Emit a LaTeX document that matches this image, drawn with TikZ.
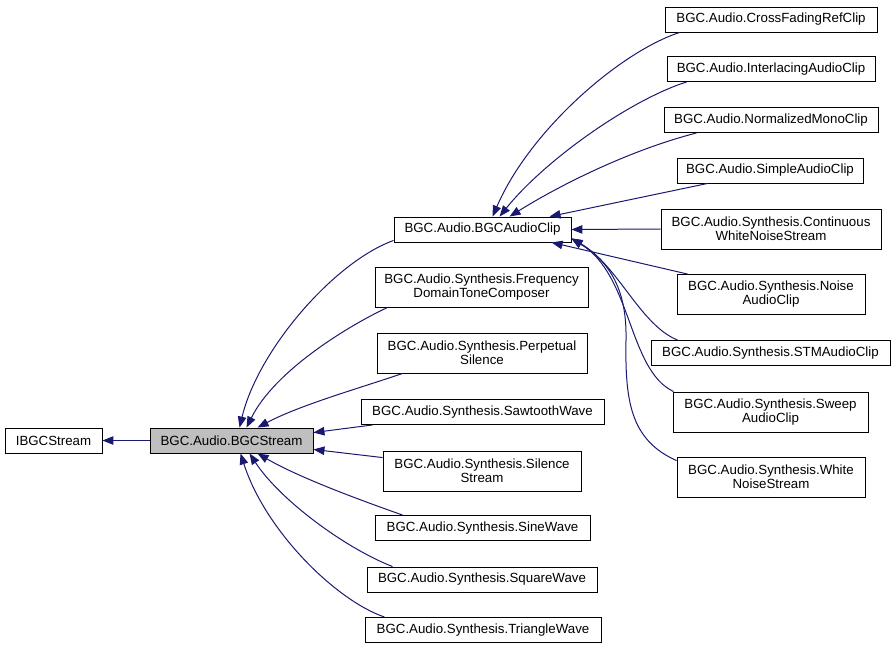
\documentclass[tikz,border=0pt]{standalone}
\usepackage{fontspec}
\setmainfont{Liberation Sans}
\usetikzlibrary{arrows.meta}
\definecolor{edgeblue}{RGB}{25,25,112}
\definecolor{focusgray}{RGB}{191,191,191}
\begin{document}
\begin{tikzpicture}[x=1pt,y=-1pt,
  cls/.style={draw=black, line width=0.9pt, fill=white, inner sep=0pt, align=center,
    font=\fontsize{13.3}{14}\selectfont},
  one/.style={cls, minimum height=25pt},
  two/.style={cls, minimum height=40pt},
  inh/.style={draw=edgeblue, line width=1pt, -{Triangle[length=11pt,width=8.5pt]}, color=edgeblue}
]
\useasboundingbox (0,0) rectangle (896,649);

% left
\node[one, minimum width=97pt] (ibgc) at (53.5,440.5) {IBGCStream};
\node[one, minimum width=163pt, fill=focusgray] (stream) at (231.5,440.5) {BGC.Audio.BGCStream};

% middle column
\node[one, minimum width=177pt] (clip) at (482.5,229.5) {BGC.Audio.BGCAudioClip};
\node[two, minimum width=213pt] (freq) at (481.5,287.5) {BGC.Audio.Synthesis.Frequency\\DomainToneComposer};
\node[two, minimum width=210pt] (perp) at (482,353) {BGC.Audio.Synthesis.Perpetual\\Silence};
\node[one, minimum width=243pt] (saw) at (482.5,412) {BGC.Audio.Synthesis.SawtoothWave};
\node[two, minimum width=198pt] (sil) at (482,471) {BGC.Audio.Synthesis.Silence\\Stream};
\node[one, minimum width=215pt] (sine) at (482.5,528) {BGC.Audio.Synthesis.SineWave};
\node[one, minimum width=230pt] (square) at (482,579.5) {BGC.Audio.Synthesis.SquareWave};
\node[one, minimum width=236pt] (tri) at (483,630) {BGC.Audio.Synthesis.TriangleWave};

% right column
\node[one, minimum width=212pt] (cross) at (771,19.5) {BGC.Audio.CrossFadingRefClip};
\node[one, minimum width=208pt] (inter) at (771,69) {BGC.Audio.InterlacingAudioClip};
\node[one, minimum width=214pt] (norm) at (771,120) {BGC.Audio.NormalizedMonoClip};
\node[one, minimum width=186pt] (simple) at (770,170.5) {BGC.Audio.SimpleAudioClip};
\node[two, minimum width=220pt] (cont) at (771,229) {BGC.Audio.Synthesis.Continuous\\WhiteNoiseStream};
\node[two, minimum width=188pt] (noise) at (771,294.5) {BGC.Audio.Synthesis.Noise\\AudioClip};
\node[one, minimum width=239pt] (stm) at (770.5,353) {BGC.Audio.Synthesis.STMAudioClip};
\node[two, minimum width=195pt] (sweep) at (770.5,412) {BGC.Audio.Synthesis.Sweep\\AudioClip};
\node[two, minimum width=188pt] (white) at (771,477) {BGC.Audio.Synthesis.White\\NoiseStream};

% edges to IBGCStream
\draw[inh] (stream.west) -- (ibgc.east);

% edges to BGCStream
\draw[inh] ([yshift=2pt]clip.south west) .. controls (334,262) and (258,350) .. ([xshift=90pt]stream.north west);
\draw[inh] ([xshift=12pt]freq.south west) .. controls (350,325) and (275,370) .. ([xshift=97pt]stream.north west);
\draw[inh] ([xshift=26pt]perp.south west) .. controls (360,388) and (300,405) .. ([xshift=108pt]stream.north west);
\draw[inh] ([xshift=12pt]saw.south west) -- ([yshift=-5pt]stream.north east);
\draw[inh] ([yshift=-7pt]sil.north west) -- ([yshift=4pt]stream.south east);
\draw[inh] ([xshift=28pt]sine.north west) .. controls (360,500) and (300,478) .. ([xshift=108pt]stream.south west);
\draw[inh] ([xshift=26pt]square.north west) .. controls (345,548) and (280,500) .. ([xshift=100pt]stream.south west);
\draw[inh] ([xshift=20pt]tri.north west) .. controls (335,600) and (265,530) .. ([xshift=91pt]stream.south west);

% edges to BGCAudioClip
\draw[inh] ([xshift=15pt]cross.south west) .. controls (620,52) and (530,130) .. ([xshift=99pt]clip.north west);
\draw[inh] ([xshift=20pt]inter.south west) .. controls (630,100) and (545,160) .. ([xshift=106pt]clip.north west);
\draw[inh] ([xshift=33pt]norm.south west) .. controls (630,150) and (560,185) .. ([xshift=116pt]clip.north west);
\draw[inh] ([xshift=31pt]simple.south west) -- ([xshift=156pt]clip.north west);
\draw[inh] (cont.west) -- (clip.east);
\draw[inh] ([xshift=11pt]noise.north west) -- ([xshift=158pt]clip.south west);
\draw[inh] ([xshift=27pt]stm.north west) .. controls (640,325) and (618,265) .. ([yshift=4pt]clip.south east);
\draw[inh] ([xshift=1pt]sweep.north west) .. controls (628,370) and (632,275) .. ([yshift=4pt]clip.south east);
\draw[inh] ([yshift=-4pt]white.north west) .. controls (630,440) and (625,400) .. (626,340) .. controls (627,290) and (610,262) .. ([yshift=4pt]clip.south east);
\end{tikzpicture}
\end{document}
